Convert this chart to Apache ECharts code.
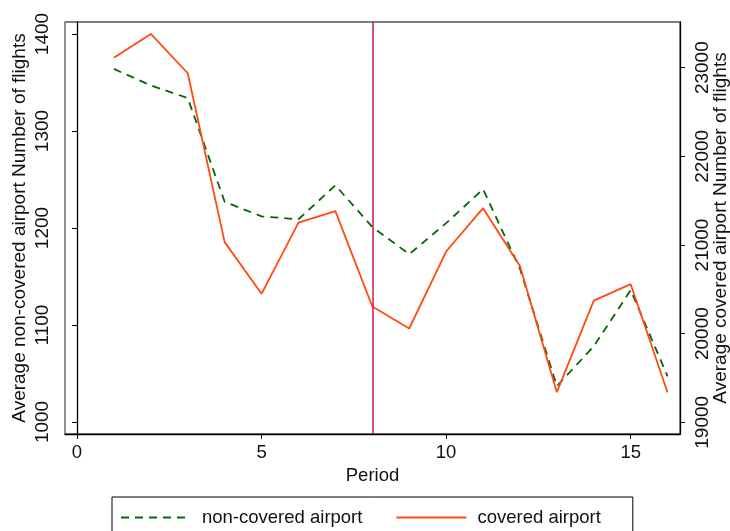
<!DOCTYPE html>
<html>
<head>
<meta charset="utf-8">
<script src="https://cdn.jsdelivr.net/npm/echarts@6/dist/echarts.min.js"></script>
<style>
  html, body { margin: 0; padding: 0; background: #fff; }
  #chart { width: 730px; height: 531px; }
</style>
</head>
<body>
<div id="chart"></div>
<script>
  // periods on the x axis
  var periods = [1, 2, 3, 4, 5, 6, 7, 8, 9, 10, 11, 12, 13, 14, 15, 16]
  // non-covered airports (left axis)
  var nonCovered = [1364, 1347, 1334, 1227, 1212, 1209, 1244, 1201, 1173, 1205, 1240, 1158, 1037, 1078, 1136, 1047]
  // covered airports (right axis)
  var covered = [23113, 23380, 22937, 21032, 20449, 21253, 21381, 20306, 20058, 20926, 21415, 20764, 19340, 20373, 20558, 19336]
  // tick labels
  var xTicks = [0, 5, 10, 15]
  var leftTicks = [1000, 1100, 1200, 1300, 1400]
  var rightTicks = [19000, 20000, 21000, 22000, 23000]
  var treatPeriod = 8

  var font = 'Liberation Sans, Arial, sans-serif'
  var myChart = echarts.init(document.getElementById('chart'))

  var pairs = function (ys) {
    return periods.map(function (p, i) { return [p, ys[i]] })
  }
  var plain = function (v) { return String(v) }

  var option = {
    animation: false,
    backgroundColor: '#fff',
    textStyle: { fontFamily: font },
    grid: {
      left: 65, top: 22, right: 50, bottom: 97,
      outerBoundsMode: 'none',
      show: true, borderColor: '#555', borderWidth: 1.3
    },
    legend: {
      left: 112, top: 497,
      orient: 'horizontal',
      icon: 'inherit',
      itemWidth: 70, itemHeight: 14, itemGap: 33,
      itemStyle: { opacity: 0 },
      borderColor: '#000', borderWidth: 1,
      padding: [11, 32, 5, 8],
      textStyle: { fontSize: 18.5, color: '#111', padding: [0, 0, 0, 6], fontFamily: font },
      data: ['non-covered airport', 'covered airport']
    },
    xAxis: {
      type: 'value',
      min: -0.325, max: 16.336,
      name: 'Period', nameLocation: 'middle', nameGap: 32, nameMoveOverlap: false,
      nameTextStyle: { fontSize: 18.5, color: '#111' },
      axisLine: { show: true, onZero: false, lineStyle: { color: '#000', width: 1.3 } },
      axisTick: { show: true, length: 5, customValues: xTicks, lineStyle: { color: '#000' } },
      axisLabel: { fontSize: 18.5, color: '#111', margin: 9, customValues: xTicks, formatter: plain },
      splitLine: { show: false }
    },
    yAxis: [
      {
        type: 'value', position: 'left',
        min: 987.6, max: 1412.4,
        name: 'Average non-covered airport Number of flights',
        nameLocation: 'middle', nameGap: 36, nameRotate: 90, nameMoveOverlap: false,
        nameTextStyle: { fontSize: 19, color: '#111' },
        axisLine: { show: true, lineStyle: { color: '#000', width: 1.3 } },
        axisTick: { show: true, length: 5, customValues: leftTicks, lineStyle: { color: '#000' } },
        axisLabel: { fontSize: 19, color: '#111', rotate: 90, margin: 13, customValues: leftTicks, formatter: plain },
        splitLine: { show: false }
      },
      {
        type: 'value', position: 'right',
        min: 18868, max: 23515,
        name: 'Average covered airport Number of flights',
        nameLocation: 'middle', nameGap: 31, nameRotate: 90, nameMoveOverlap: false,
        nameTextStyle: { fontSize: 19, color: '#111' },
        axisLine: { show: true, lineStyle: { color: '#000', width: 1.3 } },
        axisTick: { show: true, length: 5, customValues: rightTicks, lineStyle: { color: '#000' } },
        axisLabel: { fontSize: 19, color: '#111', rotate: 90, margin: 13, customValues: rightTicks, formatter: plain },
        splitLine: { show: false }
      }
    ],
    series: [
      {
        name: 'non-covered airport',
        type: 'line',
        yAxisIndex: 0,
        data: pairs(nonCovered),
        symbol: 'none',
        color: '#066406',
        lineStyle: { color: '#066406', width: 1.8, type: [8, 6] },
        markLine: {
          silent: true, symbol: 'none',
          label: { show: false },
          lineStyle: { color: '#d2184a', width: 1.5, type: 'solid' },
          data: [{ xAxis: treatPeriod }]
        }
      },
      {
        name: 'covered airport',
        type: 'line',
        yAxisIndex: 1,
        data: pairs(covered),
        symbol: 'none',
        color: '#ff4a10',
        lineStyle: { color: '#ff4a10', width: 1.8 }
      }
    ]
  }
  myChart.setOption(option)
</script>
</body>
</html>
